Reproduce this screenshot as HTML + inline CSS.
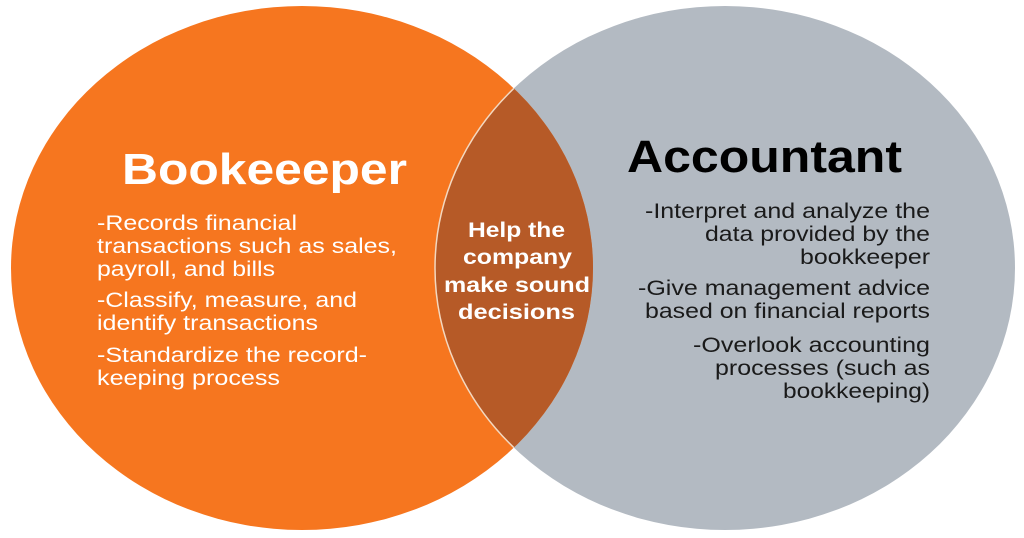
<!DOCTYPE html>
<html><head><meta charset="utf-8"><style>
html,body{margin:0;padding:0;background:#fff;width:1024px;height:538px;overflow:hidden}
svg{display:block}
text{font-family:"Liberation Sans",Arial,sans-serif}
</style></head><body>
<svg width="1024" height="538" viewBox="0 0 1024 538" xmlns="http://www.w3.org/2000/svg">
<defs>
<clipPath id="cl"><ellipse cx="302" cy="268" rx="291" ry="262"/></clipPath>
</defs>
<ellipse cx="725" cy="268" rx="290" ry="262" fill="#B3BAC2"/>
<ellipse cx="302" cy="268" rx="291" ry="262" fill="#F6761F"/>
<ellipse cx="725" cy="268" rx="290" ry="262" fill="#B65A27" clip-path="url(#cl)" stroke="#f3d8c0" stroke-width="1.5"/>
<text x="122" y="184" font-size="44" font-weight="bold" fill="#fff" textLength="285" lengthAdjust="spacingAndGlyphs">Bookeeeper</text>
<g font-size="21" fill="#fff">
<text x="97" y="230" textLength="200" lengthAdjust="spacingAndGlyphs">-Records financial</text>
<text x="97" y="253" textLength="300" lengthAdjust="spacingAndGlyphs">transactions such as sales,</text>
<text x="97" y="276" textLength="178" lengthAdjust="spacingAndGlyphs">payroll, and bills</text>
<text x="97" y="307" textLength="260" lengthAdjust="spacingAndGlyphs">-Classify, measure, and</text>
<text x="97" y="330" textLength="221" lengthAdjust="spacingAndGlyphs">identify transactions</text>
<text x="97" y="362" textLength="270" lengthAdjust="spacingAndGlyphs">-Standardize the record-</text>
<text x="97" y="385" textLength="183" lengthAdjust="spacingAndGlyphs">keeping process</text>
</g>
<g font-size="21" font-weight="bold" fill="#fff">
<text x="468" y="237" textLength="97" lengthAdjust="spacingAndGlyphs">Help the</text>
<text x="463" y="264" textLength="109" lengthAdjust="spacingAndGlyphs">company</text>
<text x="444" y="292" textLength="146" lengthAdjust="spacingAndGlyphs">make sound</text>
<text x="458" y="319" textLength="117" lengthAdjust="spacingAndGlyphs">decisions</text>
</g>
<text x="627" y="172" font-size="45" font-weight="bold" fill="#000" textLength="275" lengthAdjust="spacingAndGlyphs">Accountant</text>
<g font-size="21" fill="#1a1a1a">
<text x="645" y="218" textLength="285" lengthAdjust="spacingAndGlyphs">-Interpret and analyze the</text>
<text x="705" y="241" textLength="225" lengthAdjust="spacingAndGlyphs">data provided by the</text>
<text x="800" y="264" textLength="130" lengthAdjust="spacingAndGlyphs">bookkeeper</text>
<text x="638" y="295" textLength="292" lengthAdjust="spacingAndGlyphs">-Give management advice</text>
<text x="645" y="318" textLength="285" lengthAdjust="spacingAndGlyphs">based on financial reports</text>
<text x="693" y="352" textLength="237" lengthAdjust="spacingAndGlyphs">-Overlook accounting</text>
<text x="715" y="375" textLength="215" lengthAdjust="spacingAndGlyphs">processes (such as</text>
<text x="783" y="398" textLength="147" lengthAdjust="spacingAndGlyphs">bookkeeping)</text>
</g>
</svg>
</body></html>
